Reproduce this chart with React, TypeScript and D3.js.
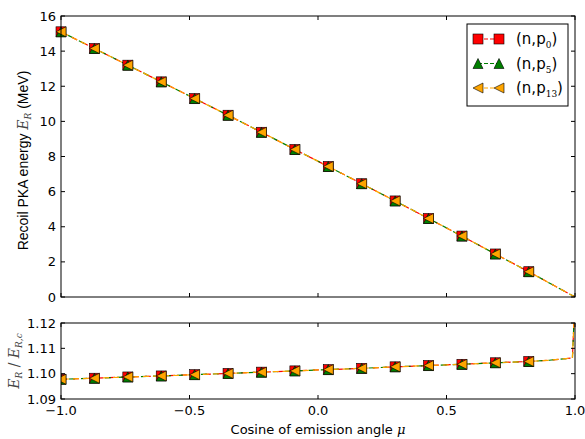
import React from "react";
import * as d3 from "d3";

const muMarkers = [-1, -0.87, -0.74, -0.61, -0.48, -0.35, -0.22, -0.09, 0.04, 0.17, 0.30, 0.43, 0.56, 0.69, 0.82];
const muLine = [-1, -0.87, -0.74, -0.61, -0.48, -0.35, -0.22, -0.09, 0.04, 0.17, 0.30, 0.43, 0.56, 0.69, 0.82, 0.9, 0.99, 1.0];
const energyP0 = [15.1, 14.15, 13.2, 12.25, 11.3, 10.35, 9.38, 8.4, 7.43, 6.45, 5.47, 4.47, 3.47, 2.45, 1.44, 0.8, 0.08, 0];
const energyP5 = [15.1, 14.15, 13.2, 12.25, 11.3, 10.35, 9.38, 8.4, 7.43, 6.45, 5.47, 4.47, 3.47, 2.45, 1.44, 0.8, 0.08, 0];
const energyP13 = [15.1, 14.15, 13.2, 12.25, 11.3, 10.35, 9.38, 8.4, 7.43, 6.45, 5.47, 4.47, 3.47, 2.45, 1.44, 0.8, 0.08, 0];
const ratioP0 = [1.0978, 1.0982, 1.0987, 1.0991, 1.0996, 1.1001, 1.1006, 1.1011, 1.1016, 1.1021, 1.1027, 1.1032, 1.1037, 1.1043, 1.1048, 1.1053, 1.1062, 1.13];
const ratioP5 = [1.0978, 1.0982, 1.0987, 1.0991, 1.0996, 1.1001, 1.1006, 1.1011, 1.1016, 1.1021, 1.1027, 1.1032, 1.1037, 1.1043, 1.1048, 1.1053, 1.1062, 1.13];
const ratioP13 = [1.0978, 1.0982, 1.0987, 1.0991, 1.0996, 1.1001, 1.1006, 1.1011, 1.1016, 1.1021, 1.1027, 1.1032, 1.1037, 1.1043, 1.1048, 1.1053, 1.1062, 1.13];
const xTicks = [-1, -0.5, 0, 0.5, 1];
const topYTicks = [0, 2, 4, 6, 8, 10, 12, 14, 16];
const botYTicks = [1.09, 1.1, 1.11, 1.12];

const series = [
  { name: "p0", sub: "0", color: "#ff0000", marker: "square", energy: energyP0, ratio: ratioP0, dash: "6,6", offset: 0 },
  { name: "p5", sub: "5", color: "#007f00", marker: "triangleUp", energy: energyP5, ratio: ratioP5, dash: "6,6", offset: 4 },
  { name: "p13", sub: "13", color: "#ffa500", marker: "triangleLeft", energy: energyP13, ratio: ratioP13, dash: "6,4", offset: 8 },
];

const L = 61, R = 575;
const topT = 16, topB = 297;
const botT = 323, botB = 399;

const x = d3.scaleLinear().domain([-1, 1]).range([L, R]);
const yTop = d3.scaleLinear().domain([0, 16]).range([topB, topT]);
const yBot = d3.scaleLinear().domain([1.09, 1.12]).range([botB, botT]);

const fmtX = (v: number) => (v < 0 ? "\u2212" : "") + Math.abs(v).toFixed(1);

function Marker({ type, cx, cy, color }: { type: string; cx: number; cy: number; color: string }) {
  const s = 5;
  if (type === "square") {
    return <rect x={cx - s} y={cy - s} width={2 * s} height={2 * s} fill={color} stroke="#000" strokeWidth={0.6} />;
  }
  if (type === "triangleUp") {
    const p = `${cx},${cy - s} ${cx - s},${cy + s} ${cx + s},${cy + s}`;
    return <polygon points={p} fill={color} stroke="#000" strokeWidth={0.6} />;
  }
  const p = `${cx - s},${cy} ${cx + s},${cy - s} ${cx + s},${cy + s}`;
  return <polygon points={p} fill={color} stroke="#000" strokeWidth={0.6} />;
}

export default function App() {
  const lineTop = (vals: number[]) =>
    d3.line<number>().x((_, i) => x(muLine[i])).y((d) => yTop(d))(vals) || "";
  const lineBot = (vals: number[]) =>
    d3.line<number>().x((_, i) => x(muLine[i])).y((d) => yBot(d))(vals) || "";

  const tickFont = { fontFamily: "DejaVu Sans", fontSize: 13, fill: "#000" } as const;
  const tl = 4;

  const frame = (t: number, b: number) => (
    <rect x={L} y={t} width={R - L} height={b - t} fill="none" stroke="#000" strokeWidth={1} />
  );

  return (
    <svg width={585} height={439} style={{ position: "absolute", left: 0, top: 0, background: "#fff" }}>
      <rect width={585} height={439} fill="#fff" />
      <defs>
        <clipPath id="clipTop"><rect x={L} y={topT} width={R - L} height={topB - topT} /></clipPath>
        <clipPath id="clipBot"><rect x={L} y={botT} width={R - L} height={botB - botT} /></clipPath>
      </defs>

      {/* Top panel */}
      <g clipPath="url(#clipTop)">
        {series.map((s) => (
          <path key={s.name} d={lineTop(s.energy)} fill="none" stroke={s.color} strokeWidth={1.2}
            strokeDasharray={s.dash} strokeDashoffset={s.offset} />
        ))}
      </g>
      {series.map((s) => (
        <g key={s.name}>
          {muMarkers.map((m, i) => (
            <Marker key={i} type={s.marker} cx={x(m)} cy={yTop(s.energy[i])} color={s.color} />
          ))}
        </g>
      ))}
      {frame(topT, topB)}
      {xTicks.map((t) => (
        <g key={t}>
          <line x1={x(t)} x2={x(t)} y1={topB} y2={topB - tl} stroke="#000" />
          <line x1={x(t)} x2={x(t)} y1={topT} y2={topT + tl} stroke="#000" />
        </g>
      ))}
      {topYTicks.map((t) => (
        <g key={t}>
          <line x1={L} x2={L + tl} y1={yTop(t)} y2={yTop(t)} stroke="#000" />
          <line x1={R} x2={R - tl} y1={yTop(t)} y2={yTop(t)} stroke="#000" />
          <text x={L - 5} y={yTop(t)} dy="0.35em" textAnchor="end" {...tickFont}>{t}</text>
        </g>
      ))}
      <text transform={`translate(28,${(topT + topB) / 2 + 4}) rotate(-90)`} textAnchor="middle"
        fontFamily="Liberation Sans" fontSize={14}>
        Recoil PKA energy{" "}
        <tspan fontFamily="DejaVu Serif" fontStyle="italic" fill="#444">E</tspan>
        <tspan fontFamily="DejaVu Serif" fontStyle="italic" fontSize={9} dy={3} fill="#444">R</tspan>
        <tspan dy={-3}>{"  (MeV)"}</tspan>
      </text>

      {/* Legend */}
      <rect x={467} y={24} width={101} height={82} fill="#fff" stroke="#000" strokeWidth={1} />
      {series.map((s, i) => {
        const ly = 39 + i * 24.5;
        return (
          <g key={s.name}>
            <line x1={478} x2={499} y1={ly} y2={ly} stroke={s.color} strokeWidth={1.2} strokeDasharray="4,2" />
            <Marker type={s.marker} cx={478} cy={ly} color={s.color} />
            <Marker type={s.marker} cx={499} cy={ly} color={s.color} />
            <text x={516} y={ly} dy="0.35em" fontFamily="DejaVu Sans" fontSize={15}>
              (n,p<tspan fontFamily="DejaVu Serif" fontSize={9} dy={4}>{s.sub}</tspan><tspan dy={-4}>)</tspan>
            </text>
          </g>
        );
      })}

      {/* Bottom panel */}
      <g clipPath="url(#clipBot)">
        {series.map((s) => (
          <path key={s.name} d={lineBot(s.ratio)} fill="none" stroke={s.color} strokeWidth={1.2}
            strokeDasharray={s.dash} strokeDashoffset={s.offset} />
        ))}
        {series.map((s) => (
          <g key={s.name}>
            {muMarkers.map((m, i) => (
              <Marker key={i} type={s.marker} cx={x(m)} cy={yBot(s.ratio[i])} color={s.color} />
            ))}
          </g>
        ))}
      </g>
      {frame(botT, botB)}
      {xTicks.map((t) => (
        <g key={t}>
          <line x1={x(t)} x2={x(t)} y1={botB} y2={botB - tl} stroke="#000" />
          <line x1={x(t)} x2={x(t)} y1={botT} y2={botT + tl} stroke="#000" />
          <text x={x(t)} y={botB + 16} textAnchor="middle" {...tickFont}>{fmtX(t)}</text>
        </g>
      ))}
      {botYTicks.map((t) => (
        <g key={t}>
          <line x1={L} x2={L + tl} y1={yBot(t)} y2={yBot(t)} stroke="#000" />
          <line x1={R} x2={R - tl} y1={yBot(t)} y2={yBot(t)} stroke="#000" />
          <text x={L - 5} y={yBot(t)} dy="0.35em" textAnchor="end" {...tickFont}>{t.toFixed(2)}</text>
        </g>
      ))}
      <text transform={`translate(19,${(botT + botB) / 2}) rotate(-90)`} textAnchor="middle"
        fontFamily="DejaVu Serif" fontStyle="italic" fontSize={14} fill="#444">
        E<tspan fontSize={9} dy={3}>R</tspan>
        <tspan dy={-3} fontStyle="normal">{" / "}</tspan>E<tspan fontSize={9} dy={3}>R,c</tspan>
      </text>
      <text x={318} y={434} textAnchor="middle" fontFamily="DejaVu Sans" fontSize={13}>
        Cosine of emission angle <tspan fontFamily="DejaVu Serif" fontStyle="italic">μ</tspan>
      </text>
    </svg>
  );
}
